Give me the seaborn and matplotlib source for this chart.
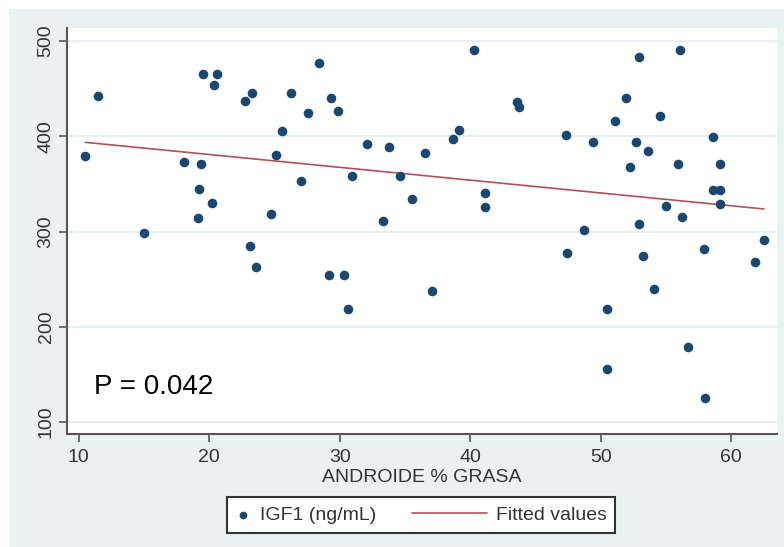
import pandas as pd
import seaborn as sns
import numpy as np
import matplotlib.pyplot as plt
from matplotlib.patches import Rectangle
from matplotlib.lines import Line2D
from matplotlib.legend_handler import HandlerLine2D

## Data
androide_grasa = [10.5, 11.5, 15.0, 18.1, 19.2, 19.1, 19.4, 19.5, 20.2, 20.4,
                  20.6, 22.7, 23.3, 23.1, 23.6, 24.7, 25.1, 25.6, 26.3, 27.0,
                  27.6, 28.4, 29.3, 29.2, 29.9, 30.3, 30.6, 30.9, 32.1, 33.3,
                  33.8, 34.6, 35.5, 36.5, 37.1, 38.7, 39.1, 40.3, 41.1, 41.1,
                  43.6, 43.7, 47.3, 47.4, 48.7, 49.4, 50.5, 50.5, 51.1, 51.9,
                  52.2, 52.7, 52.9, 52.9, 53.2, 53.6, 54.1, 54.5, 55.0, 55.9,
                  56.1, 56.2, 56.7, 57.9, 58.0, 58.6, 58.6, 59.1, 59.1, 59.1,
                  61.8, 62.5]
igf1 = [379, 442, 299, 373, 345, 314, 371, 465, 330, 454,
        465, 437, 445, 285, 263, 318, 380, 406, 445, 353,
        424, 477, 440, 254, 426, 254, 219, 358, 392, 311,
        389, 358, 334, 382, 238, 397, 407, 491, 340, 326,
        436, 431, 401, 278, 302, 394, 219, 156, 416, 440,
        368, 394, 483, 308, 274, 385, 240, 421, 327, 371,
        490, 315, 179, 282, 125, 399, 344, 371, 344, 329,
        268, 291]

x_ticks = [10, 20, 30, 40, 50, 60]
y_ticks = [100, 200, 300, 400, 500]
p_text = "P = 0.042"

df = pd.DataFrame({"ANDROIDE % GRASA": androide_grasa, "IGF1 (ng/mL)": igf1})


# line handle that reaches back into the column gap (Stata style legend)
class LongLineHandler(HandlerLine2D):
    def create_artists(self, legend, orig_handle, xdescent, ydescent, width, height, fontsize, trans):
        extra = 43
        return super().create_artists(legend, orig_handle, xdescent + extra, ydescent,
                                      width + extra, height, fontsize, trans)


sns.set_theme(style="white")
plt.rcParams["font.family"] = ["Liberation Sans", "DejaVu Sans"]

bg = "#eaf1f3"
navy = "#1a476f"
maroon = "#b0525a"
txt = "#333333"
fs = 14

fig = plt.figure(figsize=(7.84, 5.47), dpi=100, facecolor="white")
fig.patches.append(Rectangle((9 / 784, 0), 1, 1 - 9 / 547, transform=fig.transFigure,
                             facecolor=bg, edgecolor="none", zorder=-10))
ax = fig.add_axes([67 / 784, 1 - 434 / 547, 710 / 784, 406 / 547])
ax.set_facecolor("white")

sns.scatterplot(data=df, x="ANDROIDE % GRASA", y="IGF1 (ng/mL)", ax=ax,
                color=navy, s=48, linewidth=0, label="IGF1 (ng/mL)", zorder=3)
sns.regplot(data=df, x="ANDROIDE % GRASA", y="IGF1 (ng/mL)", ax=ax, scatter=False,
            ci=None, color=maroon, line_kws={"linewidth": 1.2, "zorder": 2},
            label="Fitted values")

ax.set_xlim(9.1, 63.5)
ax.set_ylim(87.6, 513.6)
ax.set_xticks(x_ticks)
ax.set_yticks(y_ticks)
ax.yaxis.grid(True, color="#e6eff1", linewidth=1.5)
ax.set_axisbelow(True)

for s in ["top", "right"]:
    ax.spines[s].set_visible(False)
for s in ["left", "bottom"]:
    ax.spines[s].set_color("#555555")
    ax.spines[s].set_linewidth(1.5)

ax.tick_params(axis="both", direction="out", length=6, width=1.2, color="#555555",
               labelsize=fs, labelcolor=txt, bottom=True, left=True, pad=3)
ax.tick_params(axis="x", pad=5)
plt.setp(ax.get_yticklabels(), rotation=90, va="center")
ax.set_xlabel("ANDROIDE % GRASA", fontsize=fs, color=txt, labelpad=2)
ax.set_ylabel("")

ax.text(11.15, 137, p_text, fontsize=20, color="black", ha="left", va="center")

handles, labels = ax.get_legend_handles_labels()
leg = ax.legend(handles, labels, loc="center", bbox_to_anchor=(421 / 784, 1 - 515 / 547),
                bbox_transform=fig.transFigure, ncol=2, frameon=True, fancybox=False,
                edgecolor=txt, framealpha=1, fontsize=fs, labelcolor=txt,
                handlelength=0.8, handletextpad=0.45, columnspacing=4.9, markerscale=0.8,
                borderpad=0.45, borderaxespad=0,
                handler_map={Line2D: LongLineHandler()})
leg.get_frame().set_linewidth(1.5)

fig.savefig("out.png", dpi=100, facecolor=fig.get_facecolor())
